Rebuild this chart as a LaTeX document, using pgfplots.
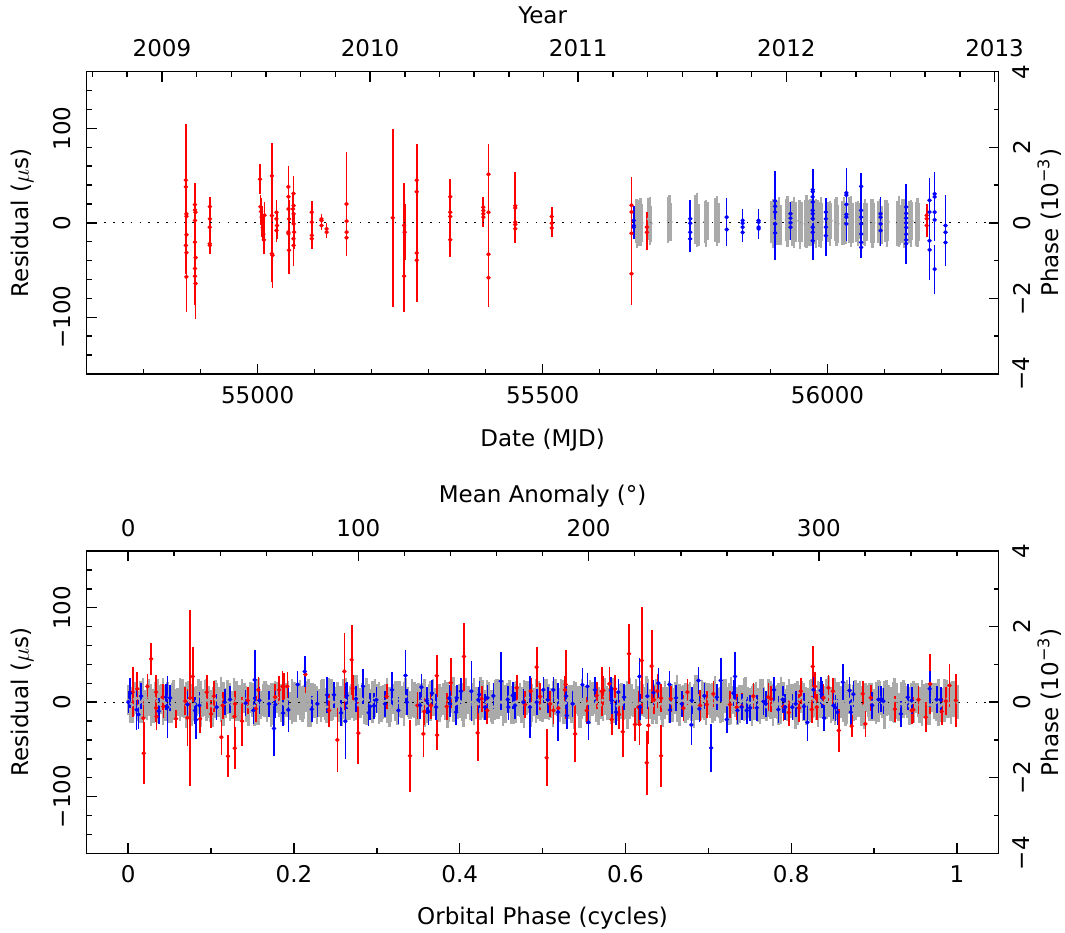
\documentclass[border=0pt]{standalone}
\usepackage{fontspec}
\setmainfont{DejaVu Sans}
\usepackage{pgfplots}
\usepackage{pgfplotstable}
\pgfplotsset{compat=1.18}

\definecolor{tgrey}{RGB}{170,170,170}
\definecolor{tred}{RGB}{255,0,0}
\definecolor{tblue}{RGB}{0,0,255}

% ---------- timing residuals versus date: MJD, residual (us), error (us) ----------
\pgfplotstableread{
x y e
54874 45.1 60
54874 38.1 25
54875 9.5 30
54875 7.0 20
54875 -12.6 25
54874 -23.9 30
54875 -31.6 35
54875 -57.2 37
54890 19.3 23
54890 13.7 20
54891 11.2 25
54890 2.5 30
54890 -20.4 30
54891 -36.8 35
54890 -48.4 30
54890 -56.5 30
54891 -64.2 38
54916 17.2 10
54916 4.2 12
54916 -4.6 10
54916 -22.1 10
54916 -23.9 9
55004 46.2 16
55005 17.0 12
55006 12.0 14
55007 6.0 12
55008 0.0 15
55009 -5.0 14
55010 -12.0 18
55011 -18.0 15
55012 8.0 14
55025 49.7 35
55025 7.7 20
55025 -32.6 30
55026 -34.4 35
55033 11.2 13
55033 4.2 12
55034 -2.8 14
55033 -8.1 12
55054 38.1 22
55054 27.6 20
55054 14.7 18
55055 4.2 20
55054 -9.8 18
55054 -11.6 22
55055 -29.1 25
55063 31.1 18
55063 18.2 15
55062 14.7 16
55063 9.5 15
55063 -1.1 16
55064 -9.8 18
55063 -16.8 20
55063 -23.9 22
55095 11.2 12
55095 0.7 12
55095 -13.3 12
55095 -16.8 11
55112 4.2 5
55112 2.5 5
55112 -2.8 5
55121 -6.3 6
55121 -9.8 6
55156 20.0 55
55156 1.8 15
55156 -9.8 20
55156 -15.8 18
55237 5.3 94
55257 -2.8 45
55258 -9.8 30
55257 -56.5 38
55279 45.1 38
55279 32.9 30
55279 -31.9 30
55279 -39.6 44
55338 27.6 19
55338 11.2 15
55338 6.7 12
55338 -17.9 18
55396 16.5 11
55396 13.0 10
55396 9.5 10
55396 6.0 10
55405 51.4 32
55405 11.2 20
55405 -33.3 25
55405 -58.2 31
55452 18.2 36
55452 15.8 15
55452 0.7 12
55452 -1.8 14
55452 -6.3 15
55516 6.8 10
55516 -0.4 12
55516 -5.4 10
55656 18.6 30
55656 11.4 20
55656 -11.0 20
55656 -54.0 33
55683 -4.6 16
55683 -10.0 19
56174 7.9 12
56174 4.3 12
56174 -2.9 12
}\redtime

\pgfplotstableread{
x y e
55660 2.5 15
55660 -2.9 14
55660 -4.6 12
55759 4.3 20
55759 -0.4 18
55759 -10.0 20
55759 -17.0 14
55823 6.0 20
55823 -7.0 17
55851 2.5 12
55851 -0.4 12
55851 -4.6 14
55851 -10.0 10
55879 2.5 12
55879 0.7 12
55879 -4.6 12
55879 -6.4 10
55908 23.2 32
55908 17.5 20
55908 11.4 20
55908 -1.1 25
55908 -10.7 29
55935 9.6 12
55935 5.0 14
55935 0.0 15
55935 -4.6 14
55974 35.0 22
55974 32.9 20
55974 27.5 18
55974 22.0 18
55974 13.2 20
55974 9.6 22
55974 4.3 25
55974 -4.6 25
55974 -10.0 24
55974 -19.0 20
55997 11.4 15
55997 4.3 18
55997 -4.6 20
55997 -13.6 22
56033 31.7 26
56033 29.3 20
56033 19.6 18
56033 8.9 16
56033 6.0 15
56033 -1.1 18
56059 38.6 14
56059 13.2 25
56059 6.0 22
56059 -1.1 25
56059 -11.8 22
56059 -20.7 16
56059 -26.0 10
56093 9.6 18
56093 6.0 20
56093 -1.1 22
56093 -8.2 16
56138 16.8 24
56138 10.0 22
56138 5.0 18
56138 0.0 20
56138 -5.0 22
56138 -12.0 24
56138 -18.0 20
56138 -22.0 22
56179 23.9 24
56179 11.4 20
56179 -19.0 24
56179 -28.6 32
56188 30.7 23
56188 27.5 20
56188 11.4 18
56188 3.2 22
56188 -49.0 26
56207 -2.9 32
56207 -10.0 30
56207 -20.7 25
}\bluetime

\pgfplotstableread{
x y e
55663.5 2 23
55666 -1 26
55668.5 3 21
55669.5 -2 22
55672 1 25
55674.5 0 20
55685.5 4 22
55688 2 25
55690.5 -1 19
55720.5 3 24
55723 5 24
55725.5 1 20
55768.5 4 26
55771 3 29
55773.5 -2 22
55784.5 1 22
55787 -1 25
55789.5 2 20
55803.5 3 23
55806 2 26
55808.5 0 21
55901.5 1 22
55904 -1 26
55906.5 2 20
55912.5 0 23
55915 2 25
55917.5 -2 21
55927.5 3 22
55930 1 27
55932.5 2 20
55938.5 -1 24
55941 0 27
55943.5 1 21
55949.5 2 22
55952 -2 26
55954.5 1 21
55960.5 -1 25
55963 1 28
55965.5 -3 22
55967.5 2 22
55970 0 25
55972.5 1 20
55977.5 1 23
55980 -1 26
55982.5 3 21
55985.5 -2 24
55988 0 27
55990.5 1 20
56001.5 1 21
56004 -1 24
56006.5 2 19
56013.5 3 22
56016 1 26
56018.5 -1 20
56026.5 0 23
56029 2 25
56031.5 -2 20
56038.5 3 24
56041 1 27
56043.5 0 21
56050.5 1 21
56053 -1 24
56055.5 2 19
56063.5 -1 22
56066 0 25
56068.5 1 20
56076.5 2 23
56079 -1 26
56081.5 0 21
56089.5 1 22
56092 0 25
56094.5 -2 20
56101.5 2 22
56104 -1 25
56106.5 1 20
56122.5 -1 24
56125 1 27
56127.5 -2 21
56131.5 2 23
56134 -1 26
56136.5 0 21
56143.5 1 22
56146 -1 25
56148.5 2 20
56155.5 -1 23
56158 0 26
56160.5 1 20
}\greytime

% ---------- residuals versus orbital phase: phase, residual (us), error (us) ----------
\pgfplotstableread{
x y e
0.0055 10.6 26.5
0.0111 14.1 17.6
0.0184 -16.9 20
0.0188 -54.0 33
0.0232 16.6 13
0.0277 45.9 16.8
0.0337 10.6 18
0.0337 -6.0 15
0.0341 -15.2 14
0.0417 5.3 14
0.0425 -4.6 12
0.0578 -17.6 9.7
0.0690 1.1 15
0.0715 -16.6 30
0.0747 4.6 92.9
0.0779 27.2 30.9
0.0868 -17.6 15
0.0948 10.6 18.3
0.1000 -12.4 15
0.1036 6.4 16.3
0.1125 -37.1 18.5
0.1141 -3.5 14
0.1205 -57.2 22
0.1282 -15.2 15
0.1290 -1.8 14
0.1286 -48.7 22
0.1374 -20.1 26
0.1443 1.8 14
0.1539 -7.1 14
0.1571 13.1 14
0.1773 5.3 14
0.1821 13.1 15
0.1861 16.6 16
0.1881 16.6 14
0.1921 16.6 15
0.2138 29.3 20
0.2424 -8.8 17.6
0.2524 -39.9 34
0.2609 32.5 40.6
0.2697 44.8 37
0.2709 14.8 14
0.2777 -32.8 32.8
0.3119 6.0 13
0.3400 -56.8 38
0.3489 -3.5 14
0.3562 -33.5 24.7
0.3574 -9.9 14
0.3654 -3.5 14
0.3723 27.9 22
0.3727 -34.9 16
0.3843 -4.6 14
0.3892 20.5 26.5
0.4052 48.3 36
0.4217 -32.5 30
0.4265 3.5 14
0.4333 -8.8 14
0.4687 15.2 14
0.4788 -2.5 14
0.4856 11.6 14
0.4929 37.1 21
0.4969 6.0 14
0.5049 -58.9 30
0.5090 -1.8 14
0.5130 -8.8 14
0.5190 -6.4 14
0.5270 13.1 15
0.5279 18.7 37
0.5392 -33.5 30
0.5532 -8.8 14
0.5653 7.1 14
0.5713 11.6 26
0.5733 12.4 15
0.5806 19.4 18
0.5834 -18.4 16
0.5874 14.1 15
0.5922 -13.1 15
0.5967 -31.4 27
0.6043 51.2 32
0.6115 -23.6 17
0.6156 -5.3 17
0.6168 -23.6 22
0.6196 44.1 56.5
0.6256 -64.2 34
0.6276 -24.7 20
0.6316 38.1 38.8
0.6344 2.5 15
0.6385 11.6 18
0.6429 -56.8 32.5
0.6429 4.2 15
0.6546 3.5 14
0.6698 -6.4 14
0.6747 10.6 14
0.6899 -3.5 16
0.6980 -2.5 14
0.7060 8.8 14
0.7261 -2.5 14
0.7342 -5.3 14
0.7402 -4.6 14
0.7543 6.4 14
0.7724 5.3 15
0.7756 3.5 14
0.7905 -4.6 15
0.7970 -10.9 14
0.8094 -6.0 15
0.8114 11.6 14
0.8247 -7.8 14
0.8259 37.8 22
0.8287 16.6 15
0.8307 -5.3 14
0.8388 4.6 15
0.8448 15.2 14
0.8504 11.6 14
0.8573 -30.0 23
0.8729 -25.4 11.5
0.8862 8.8 14
0.8894 -22.9 14
0.8959 4.6 14
0.9250 -7.4 14
0.9453 -8.8 14
0.9473 -8.1 14
0.9534 2.5 15
0.9622 -15.9 16
0.9675 19.4 32
0.9815 -9.9 14
0.9864 1.1 15
0.9908 17.6 23
0.9985 1.8 28
}\redphase

\pgfplotstableread{
x y e
0.0003 0.0 12
0.0023 9.5 16
0.0103 -8.1 21
0.0124 -13.1 15
0.0156 6.4 14
0.0369 -9.5 14
0.0457 5.3 14
0.0473 -5.3 33
0.0506 4.6 14
0.0715 -2.5 14
0.0807 -8.8 14
0.0819 -18.7 20
0.0859 -3.5 14
0.1068 -5.3 14
0.1165 0.0 14
0.1229 2.8 14
0.1418 -1.1 14
0.1511 -8.8 14
0.1527 23.6 32
0.1583 1.8 14
0.1700 -1.8 14
0.1760 -27.9 29
0.1776 -2.5 14
0.1869 -11.6 14
0.1933 -8.1 23
0.2045 18.7 14
0.2130 32.5 16.8
0.2215 -7.4 14
0.2283 -1.8 14
0.2400 7.8 19
0.2484 7.8 14
0.2569 -11.3 14
0.2621 -20.1 40
0.2637 7.1 14
0.2749 3.5 14
0.2834 16.9 18.5
0.2902 -11.3 14
0.2918 -4.6 14
0.2966 -3.9 14
0.2995 2.5 14
0.3099 -1.8 14
0.3184 13.1 18.5
0.3260 -8.8 14
0.3345 28.2 27
0.3361 0.0 14
0.3522 -3.5 14
0.3538 15.9 14
0.3602 1.8 14
0.3622 -9.9 14
0.3666 9.5 14
0.3715 -5.3 14
0.3875 4.2 14
0.3884 -1.8 14
0.3964 4.6 14
0.3956 -10.6 14
0.4016 11.6 14
0.4141 11.6 31.8
0.4225 2.5 14
0.4237 8.1 14
0.4306 -5.3 14
0.4334 4.6 14
0.4406 6.7 14
0.4495 22.2 30.9
0.4579 2.8 14
0.4587 -5.3 14
0.4640 7.1 14
0.4668 -3.5 14
0.4768 0.0 14
0.4848 -5.3 33
0.4929 0.0 14
0.5009 13.1 14
0.5062 2.5 14
0.5130 13.1 14
0.5187 -10.6 31
0.5291 -14.1 14
0.5283 6.4 14
0.5363 -1.8 14
0.5480 18.4 17.6
0.5540 16.6 14
0.5552 -21.5 18.5
0.5633 13.1 14
0.5826 12.4 14
0.5834 1.8 14
0.5886 -10.6 14
0.5914 10.6 14
0.5983 5.3 14
0.6168 27.2 19.4
0.6176 -5.3 14
0.6264 6.4 14
0.6337 9.9 14
0.6397 20.1 16
0.6530 18.7 14
0.6538 -8.1 14
0.6610 4.6 14
0.6679 -1.8 14
0.6795 -24.0 21
0.6799 1.8 14
0.6880 22.9 14
0.6892 -7.1 14
0.6952 6.7 14
0.7033 -48.3 25.6
0.7101 5.3 14
0.7149 22.9 23.8
0.7222 -18.4 14
0.7302 9.5 14
0.7322 27.2 25.6
0.7350 -8.8 14
0.7402 -5.3 14
0.7463 -8.8 14
0.7503 -6.0 14
0.7584 -6.0 14
0.7664 0.7 14
0.7692 -1.8 14
0.7793 13.1 14
0.7844 -7.8 14
0.7897 2.8 14
0.7925 -5.3 14
0.8014 -5.3 14
0.8054 -1.8 14
0.8154 -4.6 14
0.8194 -21.5 20
0.8267 13.1 14
0.8355 12.4 14
0.8367 8.1 14
0.8396 -16.6 14
0.8509 -3.5 14
0.8533 -6.0 14
0.8557 -10.6 14
0.8621 21.2 19.4
0.8702 12.4 14
0.8718 -10.6 14
0.8750 8.5 14
0.8975 -3.5 14
0.9052 2.8 14
0.9084 3.2 14
0.9112 1.1 14
0.9321 -12.4 14
0.9405 5.3 14
0.9453 1.8 14
0.9670 14.1 19.4
0.9755 2.8 14
0.9803 2.5 14
}\bluephase

\pgfplotstableread{
x y e
0.000 2 16
0.005 -3 19
0.010 4 17
0.015 0 22
0.020 -2 15
0.025 5 20
0.030 -4 18
0.035 1 23
0.040 3 16
0.045 -1 19
0.050 -5 17
0.055 2 21
0.060 0 15
0.065 4 20
0.070 -3 24
0.075 1 16
0.080 -2 18
0.085 6 19
0.090 -1 15
0.095 2 22
0.100 -4 17
0.105 3 20
0.110 0 16
0.115 -2 23
0.120 5 18
0.125 -3 15
0.130 1 21
0.135 -1 19
0.140 4 16
0.145 -5 20
0.150 2 18
0.155 0 24
0.160 -3 15
0.165 3 19
0.170 1 17
0.175 -2 22
0.180 5 16
0.185 -1 20
0.190 2 18
0.195 -4 15
0.200 0 21
0.205 3 17
0.210 -2 19
0.215 6 16
0.220 -3 23
0.225 1 18
0.230 -1 15
0.235 4 20
0.240 -5 17
0.245 2 22
0.250 0 16
0.255 -2 19
0.260 3 21
0.265 -4 15
0.270 1 18
0.275 5 24
0.280 -1 16
0.285 -3 20
0.290 2 17
0.295 0 22
0.300 4 15
0.305 -2 19
0.310 1 18
0.315 -5 21
0.320 3 16
0.325 -1 23
0.330 0 17
0.335 6 20
0.340 -3 15
0.345 2 19
0.350 -2 22
0.355 4 16
0.360 -4 18
0.365 1 21
0.370 0 15
0.375 -1 20
0.380 3 17
0.385 -3 24
0.390 5 16
0.395 -2 19
0.400 1 18
0.405 -4 22
0.410 2 15
0.415 0 20
0.420 -1 17
0.425 4 23
0.430 -3 16
0.435 2 19
0.440 -5 18
0.445 3 21
0.450 0 15
0.455 -2 20
0.460 6 17
0.465 -1 22
0.470 1 16
0.475 -3 19
0.480 4 18
0.485 -2 24
0.490 0 15
0.495 2 20
0.500 -4 17
0.505 3 21
0.510 -1 16
0.515 5 19
0.520 -3 18
0.525 0 23
0.530 2 15
0.535 -2 20
0.540 4 17
0.545 -5 22
0.550 1 16
0.555 -1 19
0.560 3 18
0.565 0 21
0.570 -3 15
0.575 6 20
0.580 -2 17
0.585 2 24
0.590 -4 16
0.595 1 19
0.600 0 18
0.605 4 22
0.610 -1 15
0.615 -3 20
0.620 2 17
0.625 5 23
0.630 -2 16
0.635 0 19
0.640 3 18
0.645 -5 21
0.650 1 15
0.655 -1 20
0.660 4 17
0.665 -3 22
0.670 2 16
0.675 0 19
0.680 -2 18
0.685 5 24
0.690 -4 15
0.695 1 20
0.700 3 17
0.705 -1 21
0.710 0 16
0.715 -3 19
0.720 6 18
0.725 -2 22
0.730 2 15
0.735 -4 20
0.740 1 17
0.745 4 23
0.750 -1 16
0.755 0 19
0.760 -3 18
0.765 3 21
0.770 -5 15
0.775 2 20
0.780 0 17
0.785 -2 22
0.790 5 16
0.795 -1 19
0.800 1 18
0.805 -4 24
0.810 3 15
0.815 0 20
0.820 -2 17
0.825 4 21
0.830 -3 16
0.835 2 19
0.840 -1 18
0.845 6 22
0.850 -5 15
0.855 1 20
0.860 0 17
0.865 -2 23
0.870 3 16
0.875 -1 19
0.880 2 18
0.885 -4 21
0.890 5 15
0.895 0 20
0.900 -3 17
0.905 1 22
0.910 -1 16
0.915 4 19
0.920 -2 18
0.925 2 24
0.930 -5 15
0.935 3 20
0.940 0 17
0.945 -1 21
0.950 4 16
0.955 -3 19
0.960 1 18
0.965 -2 22
0.970 5 15
0.975 0 20
0.980 -4 17
0.985 2 23
0.990 -1 16
0.995 3 19
1.000 0 18
}\greyphase

\pgfplotstableread{
x y e
0.0025 -1 21
0.0075 3 18
0.0125 -4 16
0.0175 2 24
0.0225 0 19
0.0275 -3 22
0.0325 4 17
0.0375 -2 20
0.0425 1 25
0.0475 5 16
0.0525 -1 21
0.0575 -4 18
0.0625 3 23
0.0675 0 17
0.0725 2 20
0.0775 -3 22
0.0825 1 16
0.0875 -2 24
0.0925 4 19
0.0975 0 17
0.1025 -5 21
0.1075 2 18
0.1125 3 24
0.1175 -1 16
0.1225 0 20
0.1275 4 22
0.1325 -3 17
0.1375 1 23
0.1425 -2 19
0.1475 5 16
0.1525 -4 21
0.1575 1 25
0.1625 2 17
0.1675 -1 20
0.1725 -3 23
0.1775 4 18
0.1825 0 16
0.1875 -2 22
0.1925 3 19
0.1975 1 24
0.2025 -4 17
0.2075 2 21
0.2125 0 18
0.2175 -1 25
0.2225 4 16
0.2275 -3 20
0.2325 1 22
0.2375 -2 17
0.2425 3 23
0.2475 0 19
0.2525 5 16
0.2575 -4 21
0.2625 2 24
0.2675 -1 18
0.2725 0 20
0.2775 -3 22
0.2825 3 17
0.2875 1 25
0.2925 -2 16
0.2975 4 20
0.3025 -1 22
0.3075 0 18
0.3125 2 24
0.3175 -4 17
0.3225 1 21
0.3275 3 19
0.3325 -2 23
0.3375 0 16
0.3425 4 20
0.3475 -3 22
0.3525 1 18
0.3575 -1 25
0.3625 2 17
0.3675 5 20
0.3725 -4 23
0.3775 0 16
0.3825 2 21
0.3875 -2 19
0.3925 3 24
0.3975 -1 17
0.4025 0 20
0.4075 4 22
0.4125 -3 16
0.4175 1 25
0.4225 -2 18
0.4275 3 20
0.4325 0 23
0.4375 -4 17
0.4425 2 21
0.4475 1 19
0.4525 -1 24
0.4575 4 16
0.4625 -3 20
0.4675 0 22
0.4725 2 18
0.4775 -2 25
0.4825 5 17
0.4875 -1 20
0.4925 1 23
0.4975 -4 16
0.5025 3 21
0.5075 0 19
0.5125 -2 24
0.5175 2 17
0.5225 4 20
0.5275 -1 22
0.5325 0 18
0.5375 -3 25
0.5425 1 16
0.5475 3 21
0.5525 -2 19
0.5575 0 23
0.5625 4 17
0.5675 -4 20
0.5725 2 22
0.5775 -1 18
0.5825 1 24
0.5875 3 16
0.5925 -2 21
0.5975 0 19
0.6025 -3 25
0.6075 2 17
0.6125 5 20
0.6175 -1 23
0.6225 0 16
0.6275 3 21
0.6325 -4 19
0.6375 1 24
0.6425 -2 17
0.6475 2 20
0.6525 0 22
0.6575 -3 18
0.6625 4 25
0.6675 1 16
0.6725 -1 21
0.6775 2 19
0.6825 -4 23
0.6875 0 17
0.6925 3 20
0.6975 -2 22
0.7025 1 18
0.7075 4 24
0.7125 -1 16
0.7175 0 21
0.7225 -3 19
0.7275 2 25
0.7325 1 17
0.7375 -2 20
0.7425 3 23
0.7475 0 16
0.7525 -4 21
0.7575 2 19
0.7625 1 24
0.7675 -1 17
0.7725 4 20
0.7775 -3 22
0.7825 0 18
0.7875 2 25
0.7925 -2 16
0.7975 3 21
0.8025 0 19
0.8075 -1 23
0.8125 5 17
0.8175 -4 20
0.8225 1 22
0.8275 2 18
0.8325 -2 24
0.8375 0 16
0.8425 3 21
0.8475 -3 19
0.8525 1 25
0.8575 4 17
0.8625 -1 20
0.8675 0 23
0.8725 -2 16
0.8775 2 21
0.8825 3 19
0.8875 -4 24
0.8925 1 17
0.8975 0 20
0.9025 -1 22
0.9075 4 18
0.9125 -3 25
0.9175 2 16
0.9225 0 21
0.9275 1 19
0.9325 -2 23
0.9375 3 17
0.9425 -4 20
0.9475 0 22
0.9525 2 18
0.9575 -1 24
0.9625 4 16
0.9675 -3 21
0.9725 1 19
0.9775 0 25
0.9825 -2 17
0.9875 3 20
0.9925 -1 22
0.9975 2 18
}\greyphaseb

\newcommand{\lblfont}{\fontsize{11.5pt}{13pt}\selectfont}

\pgfplotsset{
  panel/.style={
    scale only axis, width=455.9pt, height=151.15pt,
    anchor=south west,
    scaled ticks=false,
    tick align=inside,
    major tick length=5pt, minor tick length=2.5pt,
    axis line style={line width=0.75pt, black},
    every tick/.style={line width=0.75pt, black},
    every minor tick/.style={line width=0.75pt, black},
    tick label style={font=\lblfont},
    label style={font=\lblfont},
    clip=true,
  },
  lowerleft/.style={
    xtick pos=bottom, ytick pos=left,
    xticklabel style={anchor=base, inner sep=0pt, yshift=-14.7pt},
    yticklabel style={rotate=90, anchor=south, inner sep=0pt, outer sep=8pt},
    ymin=-160, ymax=160,
    ytick={-100,0,100}, yticklabels={−100,0,100},
    minor ytick={-160,-140,...,160},
    ylabel={Residual ($\mu$s)},
    ylabel style={at={(axis description cs:-0.0633,0.5)}, anchor=base},
  },
  upperright/.style={
    xtick pos=top, ytick pos=right,
    xticklabel style={anchor=base, inner sep=0pt, yshift=7.5pt},
    yticklabel style={rotate=90, anchor=north, inner sep=0pt, outer sep=7.25pt},
    ymin=-4, ymax=4,
    ytick={-4,-2,0,2,4}, yticklabels={−4,−2,0,2,4},
    minor ytick={-3,-1,1,3},
    ylabel={Phase (10\textsuperscript{−3})},
    ylabel style={at={(axis description cs:1.0653,0.5)}, anchor=base},
  },
  errgrey/.style={only marks, mark=*, mark size=0.6pt, color=tgrey,
    mark options={draw=tgrey, fill=tgrey},
    error bars/.cd, y dir=both, y explicit, error mark=none,
    error bar style={line width=#1, tgrey}},
  errred/.style={only marks, mark=*, mark size=0.9pt, color=tred,
    mark options={draw=tred, fill=tred},
    error bars/.cd, y dir=both, y explicit, error mark=none,
    error bar style={line width=0.85pt, tred}},
  errblue/.style={only marks, mark=*, mark size=0.9pt, color=tblue,
    mark options={draw=tblue, fill=tblue},
    error bars/.cd, y dir=both, y explicit, error mark=none,
    error bar style={line width=0.8pt, tblue}},
}

\begin{document}
\begin{tikzpicture}
\path[use as bounding box] (0,0) rectangle (532.5pt,466pt);

% ===== upper panel: residuals against date =====
\begin{axis}[panel, lowerleft, at={(43.35pt,279pt)},
  xmin=54700, xmax=56300,
  xtick={55000,55500,56000}, xticklabels={55000,55500,56000},
  minor xtick={54700,54800,...,56300},
  xlabel={Date (MJD)},
  xlabel style={at={(axis description cs:0.5,-0.2382)}, anchor=base},
]
\addplot[errgrey=1.2pt] table[x=x, y=y, y error=e] {\greytime};
\addplot[errred] table[x=x, y=y, y error=e] {\redtime};
\addplot[errblue] table[x=x, y=y, y error=e] {\bluetime};
\addplot[black, line width=0.6pt, dash pattern=on 0.8pt off 3.6pt]
  coordinates {(54700,0) (56300,0)};
\end{axis}

\begin{axis}[panel, upperright, at={(43.35pt,279pt)},
  xmin=2008.6386, xmax=2013.0192,
  xtick={2009,2010,2011,2012,2013}, xticklabels={2009,2010,2011,2012,2013},
  minor xtick={2008.6667,2008.8333,2009.1667,2009.3333,2009.5,2009.6667,2009.8333,
    2010.1667,2010.3333,2010.5,2010.6667,2010.8333,
    2011.1667,2011.3333,2011.5,2011.6667,2011.8333,
    2012.1667,2012.3333,2012.5,2012.6667,2012.8333},
  xlabel={Year},
  xlabel style={at={(axis description cs:0.5,1.1578)}, anchor=base},
]
\end{axis}

% ===== lower panel: residuals against orbital phase =====
\begin{axis}[panel, lowerleft, at={(43.35pt,39.35pt)},
  xmin=-0.05, xmax=1.05,
  xtick={0,0.2,0.4,0.6,0.8,1}, xticklabels={0,0.2,0.4,0.6,0.8,1},
  minor xtick={0.1,0.3,0.5,0.7,0.9},
  xlabel={Orbital Phase (cycles)},
  xlabel style={at={(axis description cs:0.5,-0.236)}, anchor=base},
]
\addplot[errgrey=1.6pt] table[x=x, y=y, y error=e] {\greyphase};
\addplot[errgrey=1.1pt] table[x=x, y=y, y error=e] {\greyphaseb};
\addplot[errred] table[x=x, y=y, y error=e] {\redphase};
\addplot[errblue] table[x=x, y=y, y error=e] {\bluephase};
\addplot[black, line width=0.6pt, dash pattern=on 0.8pt off 3.6pt]
  coordinates {(-0.05,0) (1.05,0)};
\end{axis}

\begin{axis}[panel, upperright, at={(43.35pt,39.35pt)},
  xmin=-18, xmax=378,
  xtick={0,100,200,300}, xticklabels={0,100,200,300},
  minor xtick={20,40,60,80,120,140,160,180,220,240,260,280,320,340,360},
  xlabel={Mean Anomaly (°)},
  xlabel style={at={(axis description cs:0.5,1.159)}, anchor=base},
]
\end{axis}
\end{tikzpicture}
\end{document}
